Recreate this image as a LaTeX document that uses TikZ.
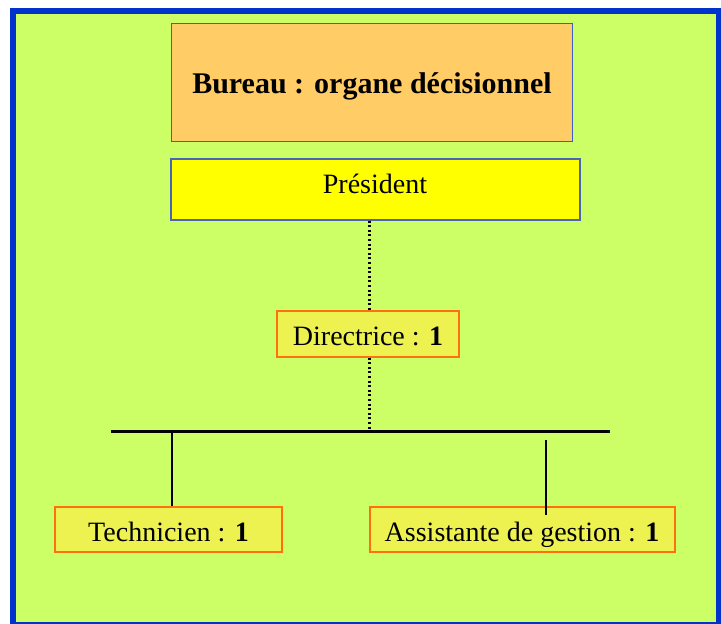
\documentclass[tikz,border=0pt]{standalone}
\usepackage{fontspec}
\setmainfont{Liberation Serif}
\definecolor{frameblue}{HTML}{0033CC}
\definecolor{bggreen}{HTML}{CCFF66}
\definecolor{bureaufill}{HTML}{FFCC66}
\definecolor{edgeblue}{HTML}{3A5FC8}
\definecolor{presfill}{HTML}{FFFF00}
\definecolor{boxfill}{HTML}{EEF250}
\definecolor{boxorange}{HTML}{FF7010}
\begin{document}
\begin{tikzpicture}[x=1pt,y=-1pt,
  boxbase/.style={rectangle,inner sep=0pt,line width=1pt},
  bureaubox/.style={boxbase,fill=bureaufill,draw=edgeblue},
  presbox/.style={boxbase,fill=presfill,draw=edgeblue!80!gray,line width=1.3pt},
  staffbox/.style={boxbase,fill=boxfill,draw=boxorange,line width=1.3pt},
  lbl/.style={anchor=base,inner sep=0pt,font=\fontsize{28}{32}\selectfont},
  bigbl/.style={anchor=base,inner sep=0pt,font=\fontsize{30}{34}\selectfont\bfseries},
  dotline/.style={line width=2.4pt,dash pattern=on 2pt off 2.6pt},
  barline/.style={line width=3pt},
  stemline/.style={line width=2.4pt}]
\useasboundingbox (0,0) rectangle (721,624);
% frame
\fill[frameblue] (10,8) rectangle (723,626);
\fill[bggreen] (15.5,13.5) rectangle (715.5,622);
% boxes
\node[bureaubox,minimum width=401pt,minimum height=118pt] (bureau) at (371.5,82) {};
\node[presbox,minimum width=409pt,minimum height=61pt] (pres) at (375.5,189.5) {};
\node[staffbox,minimum width=182pt,minimum height=46pt] (dir) at (368,334) {};
\node[staffbox,minimum width=227pt,minimum height=45pt] (tech) at (168.5,529.5) {};
\node[staffbox,minimum width=305pt,minimum height=45pt] (assist) at (522.5,529.5) {};
% labels
\node[bigbl] (tbureau) at (372,93.3) {Bureau : organe décisionnel};
\node[lbl] (tpres) at (375,193) {Président};
\node[lbl] (tdir) at (368,345.7) {Directrice : \textbf{1}};
\node[lbl] (ttech) at (168.5,541.7) {Technicien : \textbf{1}};
\node[lbl] (tassist) at (522,541.7) {Assistante de gestion : \textbf{1}};
% connectors
\coordinate (barL) at (111,431);
\coordinate (barR) at (610,431);
\coordinate (barMid) at (369.5,431);
\coordinate (stemL) at (172,431);
\coordinate (stemR) at (546,440);
\coordinate (stemRend) at (546,515);
\draw[dotline] (pres.south -| barMid) -- (dir.north -| barMid);
\draw[dotline] (dir.south -| barMid) -- (barMid);
\draw[barline] (barL) -- (barR);
\draw[stemline] (stemL) -- (stemL |- tech.north);
\draw[stemline] (stemR) -- (stemRend);
\end{tikzpicture}
\end{document}
